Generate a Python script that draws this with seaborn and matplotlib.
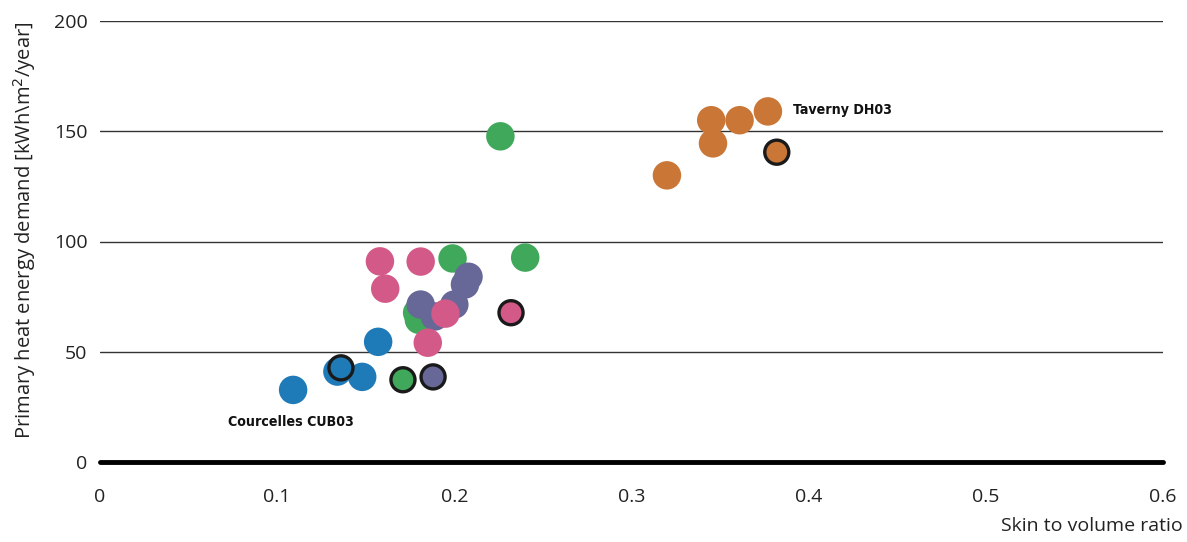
import matplotlib
matplotlib.use("Agg")
import matplotlib.pyplot as plt
import seaborn as sns
import pandas as pd

# ---- data ----
groups = ["blue", "green", "purple", "pink", "orange"]
palette = {"blue": "#1f7bb8", "green": "#3fa85a", "purple": "#676898",
           "pink": "#d35a88", "orange": "#c97637"}

blue_x = [0.109, 0.134, 0.148, 0.157]
blue_y = [32.7, 41.0, 38.6, 54.5]
green_x = [0.179, 0.180, 0.199, 0.240, 0.226]
green_y = [67.7, 64.5, 92.3, 92.7, 147.7]
purple_x = [0.181, 0.189, 0.200, 0.208, 0.206]
purple_y = [71.4, 66.0, 71.4, 84.0, 80.5]
pink_x = [0.158, 0.181, 0.161, 0.195, 0.185]
pink_y = [91.0, 90.9, 78.6, 67.3, 54.1]
orange_x = [0.320, 0.345, 0.346, 0.361, 0.377]
orange_y = [130.0, 155.0, 144.5, 155.0, 159.0]

# highlighted (black-edged) points
hl_group = ["blue", "green", "purple", "pink", "orange"]
hl_x = [0.136, 0.171, 0.188, 0.232, 0.382]
hl_y = [42.7, 37.3, 38.6, 67.7, 140.5]

xticks = [0, 0.1, 0.2, 0.3, 0.4, 0.5, 0.6]
xtick_labels = ["0", "0.1", "0.2", "0.3", "0.4", "0.5", "0.6"]
yticks = [0, 50, 100, 150, 200]

rows = []
for g, xs, ys in [("blue", blue_x, blue_y), ("green", green_x, green_y),
                  ("purple", purple_x, purple_y), ("pink", pink_x, pink_y),
                  ("orange", orange_x, orange_y)]:
    for x, y in zip(xs, ys):
        rows.append({"group": g, "x": x, "y": y})
df = pd.DataFrame(rows)
df_hl = pd.DataFrame({"group": hl_group, "x": hl_x, "y": hl_y})

sns.set_theme(style="white")
plt.rcParams["font.family"] = ["Open Sans", "DejaVu Sans"]

fig = plt.figure(figsize=(11.87, 5.42), dpi=100)
ax = fig.add_axes([100 / 1187, 80 / 542, 1063 / 1187, 441 / 542])

sns.scatterplot(data=df, x="x", y="y", hue="group", palette=palette,
                s=420, linewidth=0, ax=ax, legend=False, clip_on=False, zorder=3)
sns.scatterplot(data=df_hl, x="x", y="y", hue="group", palette=palette,
                s=300, linewidth=2.4, edgecolor="#1a1a1a", ax=ax, legend=False,
                clip_on=False, zorder=4)

ax.set_xlim(0, 0.6)
ax.set_ylim(0, 200)
for s in ax.spines.values():
    s.set_visible(False)

for yv in yticks[1:]:
    ax.axhline(yv, color="#333333", lw=1.0, zorder=1)
ax.axhline(0, color="black", lw=3.5, zorder=2, clip_on=False)

ax.set_xticks(xticks)
ax.set_xticklabels(xtick_labels)
ax.set_yticks(yticks)
ax.tick_params(axis="both", length=0, labelsize=14, colors="#222222")
ax.tick_params(axis="x", pad=19)
ax.tick_params(axis="y", pad=9)
ax.grid(False)

ax.set_ylabel("Primary heat energy demand [kWh\\m$^2$/year]", fontsize=14.5,
              color="#222222")
ax.yaxis.set_label_coords(-0.058, 0.525)
ax.set_xlabel("Skin to volume ratio", fontsize=14, color="#222222")
ax.xaxis.set_label_coords(1.019, -0.125)
ax.xaxis.label.set_horizontalalignment("right")

ann_font = ["DejaVu Sans"]
ax.text(0.391, 159.5, "Taverny DH03", fontsize=10.2, fontweight="bold",
        family=ann_font, fontstretch="condensed", ha="left", va="center",
        color="#111111")
ax.text(0.072, 18, "Courcelles CUB03", fontsize=10.2, fontweight="bold",
        family=ann_font, fontstretch="condensed", ha="left", va="center",
        color="#111111")

fig.savefig("out.png", dpi=100)
